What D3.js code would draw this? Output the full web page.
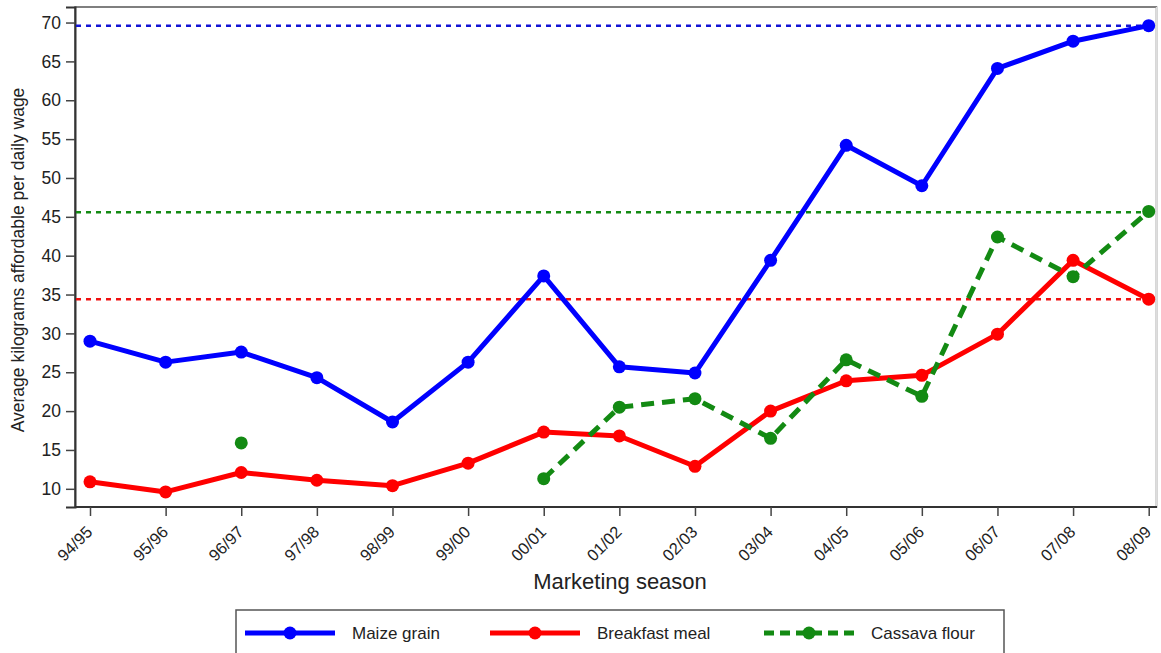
<!DOCTYPE html>
<html>
<head>
<meta charset="utf-8">
<script src="https://d3js.org/d3.v7.min.js"></script>
<style>
    body { margin: 0; background: #fff; }
    text { font-family: "Liberation Sans", Arial, sans-serif; fill: #222; }
</style>
</head>
<body>
<svg id="plot" width="1161" height="653"></svg>
<script>
    // data
    const seasons = ["94/95", "95/96", "96/97", "97/98", "98/99", "99/00", "00/01", "01/02",
        "02/03", "03/04", "04/05", "05/06", "06/07", "07/08", "08/09"];
    const maize = [29.0, 26.3, 27.6, 24.3, 18.6, 26.3, 37.4, 25.7, 24.9, 39.4, 54.2, 49.0, 64.1, 67.6, 69.6];
    const breakfast = [10.9, 9.6, 12.1, 11.1, 10.4, 13.3, 17.3, 16.8, 12.9, 20.0, 23.9, 24.6, 29.9, 39.4, 34.4];
    const cassava = [null, null, 15.9, null, null, null, 11.3, 20.5, 21.6, 16.5, 26.6, 21.9, 42.4, 37.3, 45.7];
    const maxLines = [69.6, 34.4, 45.6]; // maize, breakfast, cassava
    const yTicks = [10, 15, 20, 25, 30, 35, 40, 45, 50, 55, 60, 65, 70];

    const series = [
        { name: "Maize grain", values: maize, color: "#0000ff", meanColor: "#1515d6", dash: null, max: maxLines[0] },
        { name: "Breakfast meal", values: breakfast, color: "#ff0000", meanColor: "#f01010", dash: null, max: maxLines[1] },
        { name: "Cassava flour", values: cassava, color: "#138a13", meanColor: "#138a13", dash: "13,8", max: maxLines[2] }
    ];

    const svg = d3.select("#plot");
    const margin = { top: 7, right: 4, bottom: 146, left: 75 };
    const width = +svg.attr("width");
    const height = +svg.attr("height");
    const plotRight = width - margin.right;
    const plotBottom = height - margin.bottom;

    const x = d3.scalePoint().domain(seasons).range([90, 1148.7]);
    const y = d3.scaleLinear().domain([7.66, 72.0]).range([plotBottom, margin.top]);

    // frame
    svg.append("rect")
        .attr("x", margin.left).attr("y", margin.top)
        .attr("width", plotRight - margin.left - 0.5)
        .attr("height", plotBottom - margin.top)
        .attr("fill", "none").attr("stroke", "#555").attr("stroke-width", 1.5);
    svg.append("line")
        .attr("x1", plotRight - 0.5).attr("x2", plotRight - 0.5)
        .attr("y1", margin.top).attr("y2", plotBottom)
        .attr("stroke", "#ddd").attr("stroke-width", 1.5);

    // y axis
    const yAxis = svg.append("g")
        .attr("transform", `translate(${margin.left},0)`)
        .call(d3.axisLeft(y).tickValues(yTicks).tickSize(9).tickPadding(5));
    yAxis.select(".domain").attr("stroke", "#333").attr("stroke-width", 2);
    yAxis.selectAll(".tick line").attr("stroke", "#444").attr("stroke-width", 1.5);
    yAxis.selectAll(".tick text").style("font-size", "17.5px").attr("fill", "#222");

    // x axis
    const xAxis = svg.append("g")
        .attr("transform", `translate(0,${plotBottom})`)
        .call(d3.axisBottom(x).tickSize(9).tickSizeOuter(0));
    xAxis.select(".domain").attr("stroke", "#333").attr("stroke-width", 2)
        .attr("d", `M${margin.left},0H${plotRight}`);
    xAxis.selectAll(".tick line").attr("stroke", "#444").attr("stroke-width", 1.5);
    xAxis.selectAll(".tick text")
        .style("font-size", "16.5px")
        .attr("text-anchor", "end")
        .attr("y", 0).attr("dy", 0)
        .attr("transform", "translate(3,26) rotate(-45)");

    // axis titles
    svg.append("text")
        .attr("transform", "translate(24,260) rotate(-90)")
        .attr("text-anchor", "middle")
        .style("font-size", "17.5px")
        .text("Average kilograms affordable per daily wage");
    svg.append("text")
        .attr("x", 620).attr("y", 589)
        .attr("text-anchor", "middle")
        .style("font-size", "22px")
        .text("Marketing season");

    // max reference lines
    series.forEach(s => {
        svg.append("line")
            .attr("x1", margin.left + 1).attr("x2", plotRight - 2)
            .attr("y1", y(s.max)).attr("y2", y(s.max))
            .attr("stroke", s.meanColor).attr("stroke-width", 2.5)
            .attr("stroke-dasharray", "5,5");
    });

    // series lines and markers
    const line = d3.line()
        .defined(d => d !== null)
        .x((d, i) => x(seasons[i]))
        .y(d => y(d));

    const chart = svg.append("g");
    series.forEach(s => {
        chart.append("path")
            .datum(s.values)
            .attr("d", line)
            .attr("fill", "none")
            .attr("stroke", s.color)
            .attr("stroke-width", 5)
            .attr("stroke-linejoin", "round")
            .attr("stroke-dasharray", s.dash);
        chart.selectAll(null)
            .data(s.values.map((v, i) => ({ season: seasons[i], v })).filter(d => d.v !== null))
            .join("circle")
            .attr("cx", d => x(d.season))
            .attr("cy", d => y(d.v))
            .attr("r", 6.5)
            .attr("fill", s.color);
    });

    // legend
    const legend = svg.append("g");
    legend.append("rect")
        .attr("x", 236).attr("y", 610)
        .attr("width", 768).attr("height", 60)
        .attr("fill", "#fff").attr("stroke", "#555").attr("stroke-width", 1.5);
    const legendX = [245, 490, 764];
    series.forEach((s, i) => {
        const g = legend.append("g").attr("transform", `translate(${legendX[i]},633)`);
        g.append("line")
            .attr("x1", 0).attr("x2", 90)
            .attr("stroke", s.color).attr("stroke-width", 5)
            .attr("stroke-dasharray", s.dash ? "10,6" : null);
        g.append("circle").attr("cx", 45).attr("r", 6.5).attr("fill", s.color);
        g.append("text")
            .attr("x", 107).attr("y", 6)
            .style("font-size", "17px")
            .text(s.name);
    });
</script>
</body>
</html>
